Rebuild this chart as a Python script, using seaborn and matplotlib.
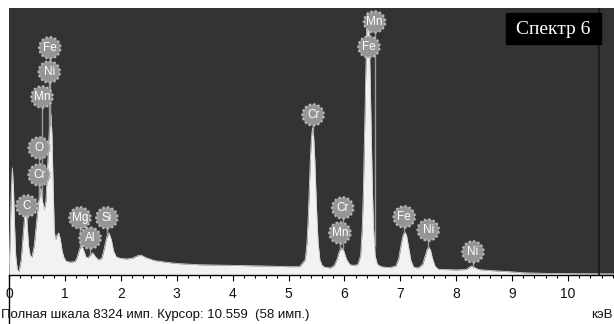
import numpy as np
import pandas as pd
import matplotlib
matplotlib.use("Agg")
import matplotlib.pyplot as plt
from matplotlib.lines import Line2D
from matplotlib.patches import Rectangle
from matplotlib.ticker import MultipleLocator
import seaborn as sns

# Spectrum (keV, counts)
energy_kev = [0.00, 0.02, 0.04, 0.06, 0.08, 0.10, 0.12, 0.15, 0.18, 0.22, 0.25, 0.28, 0.30, 0.32,
              0.35, 0.38, 0.41, 0.45, 0.49, 0.53, 0.57, 0.60, 0.63, 0.66, 0.69, 0.72, 0.75, 0.77,
              0.79, 0.81, 0.83, 0.86, 0.89, 0.92, 0.95, 0.98, 1.02, 1.10, 1.18, 1.22, 1.26, 1.30,
              1.34, 1.38, 1.42, 1.46, 1.50, 1.54, 1.60, 1.66, 1.70, 1.75, 1.79, 1.83, 1.87, 1.92,
              2.00, 2.10, 2.20, 2.30, 2.36, 2.45, 2.60, 2.80, 3.00, 3.40, 4.00, 4.60, 5.00, 5.20,
              5.30, 5.33, 5.35, 5.37, 5.39, 5.41, 5.43, 5.45, 5.47, 5.49, 5.51, 5.53, 5.56, 5.60,
              5.65, 5.75, 5.82, 5.87, 5.91, 5.95, 5.99, 6.04, 6.10, 6.18, 6.24,
              6.29, 6.32, 6.34, 6.36, 6.38, 6.40, 6.42, 6.44, 6.46, 6.48, 6.50, 6.52, 6.55, 6.59,
              6.66, 6.80, 6.92, 6.97, 7.02, 7.05, 7.08, 7.11, 7.14, 7.19, 7.24, 7.32, 7.40, 7.45,
              7.48, 7.51, 7.54, 7.57, 7.62, 7.68, 7.80, 8.00, 8.18, 8.24, 8.28, 8.32, 8.40, 8.60,
              8.90, 9.20, 9.60, 10.20, 10.82]
counts = [0, 1200, 2600, 3340, 2700, 1500, 600, 150, 120, 500, 1200, 1850, 2030, 1700,
          900, 600, 560, 900, 1600, 2300, 2710, 2300, 2030, 2300, 3400, 4500, 5050, 4300,
          2700, 1400, 1090, 1250, 1310, 1100, 750, 560, 430, 400, 420, 550, 800, 940,
          750, 550, 540, 640, 690, 580, 470, 520, 800, 1200, 1310, 1100, 750, 560,
          520, 500, 520, 600, 620, 540, 450, 400, 360, 320, 300, 280, 260, 260,
          480, 1000, 1700, 2600, 3600, 4300, 4590, 4300, 3600, 2600, 1700, 1000, 480, 300,
          240, 220, 300, 500, 750, 840, 750, 480, 320, 300, 330,
          600, 1500, 2700, 4400, 6200, 7700, 8200, 7700, 6200, 4400, 2700, 1500, 600, 330,
          260, 230, 280, 500, 1000, 1250, 1340, 1250, 950, 450, 240, 220, 330, 620,
          800, 870, 780, 550, 280, 180, 170, 160, 170, 250, 280, 240, 170, 140,
          110, 70, 50, 40, 35]

# Element markers (label, keV, counts at circle centre)
label_text = ["Fe", "Ni", "Mn", "O", "Cr", "C", "Mg", "Si", "Al",
              "Cr", "Mn", "Fe", "Cr", "Mn", "Fe", "Ni", "Ni"]
label_kev = [0.73, 0.72, 0.59, 0.54, 0.54, 0.32, 1.27, 1.75, 1.45,
             5.44, 6.54, 6.44, 5.97, 5.92, 7.07, 7.50, 8.30]
label_counts = [7080, 6330, 5550, 3960, 3120, 2150, 1780, 1780, 1150,
                4990, 7890, 7110, 2090, 1310, 1810, 1400, 720]

full_scale = 8324
cursor_kev = 10.559
cursor_counts = 58
x_ticks = list(range(0, 11))

spec = pd.DataFrame({"keV": energy_kev, "counts": counts})

sns.set_style("dark")
plt.rcParams["font.family"] = ["Liberation Sans", "DejaVu Sans"]

fig = plt.figure(figsize=(6.14, 3.24), dpi=100)
ax = fig.add_axes([9 / 614, 49 / 324, 605 / 614, 267 / 324])
ax.set_facecolor("#333333")

ax.fill_between(spec["keV"], spec["counts"], color="#f2f2f2", zorder=2, linewidth=0)
sns.lineplot(data=spec, x="keV", y="counts", ax=ax, color="#d0d0d0", linewidth=0.6, zorder=3)

ax.axvline(cursor_kev, color="#151515", linewidth=1.2, zorder=3)

# stems + circles
for lx, ly in zip(label_kev, label_counts):
    base = np.interp(lx, spec["keV"], spec["counts"])
    ax.plot([lx, lx], [min(base, ly), ly], color="#9a9a9a", linewidth=1, zorder=3)
ax.scatter(label_kev, label_counts, s=235, facecolor="#959595", edgecolor="#b8b8b8",
           linewidths=1.6, linestyle=(0, (1, 1)), zorder=4)
for t, lx, ly in zip(label_text, label_kev, label_counts):
    ax.text(lx, ly, t, color="white", fontsize=8.5, ha="center", va="center", zorder=5)

ax.set_xlim(0, 605 / 55.9)
ax.set_ylim(0, full_scale)
ax.set_yticks([])
ax.set_xticks(x_ticks)
ax.xaxis.set_minor_locator(MultipleLocator(0.2))
ax.tick_params(axis="x", which="major", length=4, width=0.8, direction="out",
               labelsize=10, pad=5, color="black", labelcolor="#111111", bottom=True)
ax.tick_params(axis="x", which="minor", length=2.5, width=0.8, direction="out",
               color="black", bottom=True)
ax.set_xlabel("")
ax.set_ylabel("")
for side in ["top", "right", "left"]:
    ax.spines[side].set_visible(False)
ax.spines["bottom"].set_color("black")
ax.spines["bottom"].set_linewidth(1)

fig.add_artist(Line2D([8.5 / 614, 8.5 / 614], [0, 49 / 324], color="black", linewidth=1))

fig.text(1 / 614, 1 - 315 / 324,
         f"Полная шкала {full_scale} имп. Курсор: {cursor_kev:.3f}  ({cursor_counts} имп.)",
         fontsize=9.5, ha="left", va="center", color="#111111")
fig.text(613 / 614, 1 - 315 / 324, "кэВ", fontsize=9.5, ha="right", va="center", color="#111111")

fig.add_artist(Rectangle((506 / 614, 1 - 44 / 324), 95 / 614, 31 / 324,
                         transform=fig.transFigure, color="black", zorder=6))
fig.text(553.5 / 614, 1 - 29 / 324, "Спектр 6", fontsize=14, family=["Liberation Serif", "DejaVu Serif"],
         color="white", ha="center", va="center", zorder=7)

fig.savefig("out.png", dpi=100, facecolor="white")
